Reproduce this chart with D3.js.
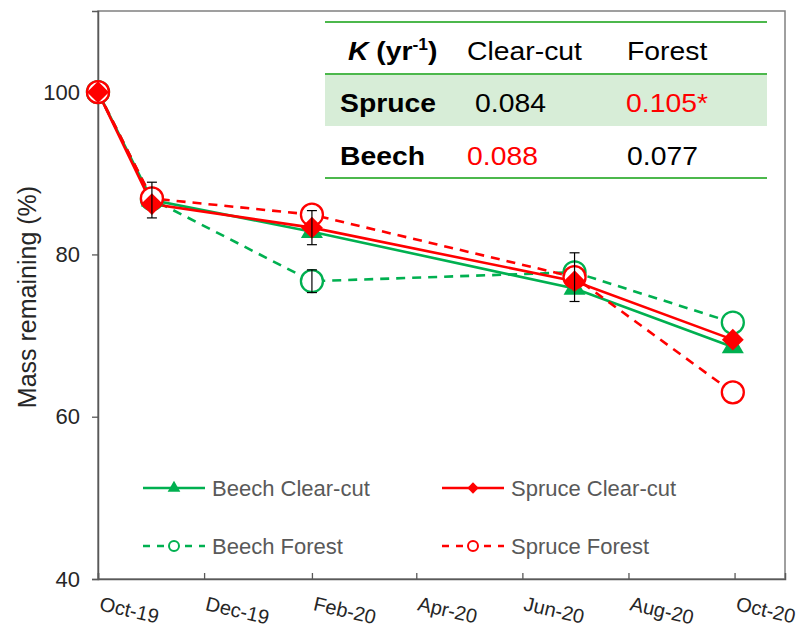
<!DOCTYPE html>
<html>
<head>
<meta charset="utf-8">
<script src="https://cdn.jsdelivr.net/npm/d3@7"></script>
<style>
  body { margin: 0; background: #fff; }
  svg { display: block; font-family: "Liberation Sans", Arial, sans-serif; }
</style>
</head>
<body>
<svg id="chart" width="800" height="632"></svg>
<script>
// sampling dates and mass remaining (%)
const dates = ['2019-10-01', '2019-11-01', '2020-02-01', '2020-07-01', '2020-09-30'];
const beechClearCut = [100, 86.7, 82.8, 75.8, 68.6];
const spruceClearCut = [100, 86.2, 83.3, 76.7, 69.5];
const beechForest = [100, 86.8, 76.7, 77.8, 71.6];
const spruceForest = [100, 86.9, 84.9, 77.2, 63.0];

// error bars (0 = none shown)
const beechClearCutErr = [0, 2.2, 0, 0, 0];
const spruceClearCutErr = [0, 0, 2.1, 0, 0];
const beechForestErr = [0, 0, 1.4, 0, 0];
const spruceForestErr = [0, 0, 0, 3.0, 0];

const xTicks = ['2019-10-01', '2019-12-01', '2020-02-01', '2020-04-01', '2020-06-01', '2020-08-01', '2020-10-01'];
const yTicks = [40, 60, 80, 100];

// decay constants table
const tableHeader = ['Clear-cut', 'Forest'];
const tableRows = ['Spruce', 'Beech'];
const kValues = [['0.084', '0.105*'], ['0.088', '0.077']];
const kHighlight = [[false, true], [true, false]];

const green = '#00B050', red = '#FF0000';
const parse = d3.timeParse('%Y-%m-%d');

const margin = {top: 11, right: 15, bottom: 53, left: 98};
const width = 800, height = 632;

const x = d3.scaleTime()
    .domain([parse('2019-10-01'), parse('2020-10-30')])
    .range([margin.left, width - margin.right]);

const y = d3.scaleLinear()
    .domain([40, 110])
    .range([height - margin.bottom, margin.top]);

const svg = d3.select('#chart');

const series = [
  {name: 'Beech Clear-cut', values: beechClearCut, err: beechClearCutErr, color: green, dash: null, marker: 'triangle'},
  {name: 'Beech Forest', values: beechForest, err: beechForestErr, color: green, dash: '9,7', marker: 'circle'},
  {name: 'Spruce Forest', values: spruceForest, err: spruceForestErr, color: red, dash: '9,7', marker: 'circle'},
  {name: 'Spruce Clear-cut', values: spruceClearCut, err: spruceClearCutErr, color: red, dash: null, marker: 'diamond'}
];

// frame
svg.append('rect')
    .attr('x', margin.left).attr('y', margin.top)
    .attr('width', width - margin.right - margin.left)
    .attr('height', height - margin.bottom - margin.top)
    .attr('fill', 'none')
    .attr('stroke', '#808080')
    .attr('stroke-width', 1.5);

// axes
const yAxis = svg.append('g')
    .attr('transform', `translate(${margin.left},0)`)
    .call(d3.axisLeft(y).tickValues(yTicks).tickSize(6).tickPadding(12));
yAxis.select('.domain').attr('stroke', '#595959').attr('stroke-width', 1.5);
yAxis.selectAll('.tick line').attr('stroke', '#595959').attr('stroke-width', 1.3);
yAxis.selectAll('.tick text')
    .attr('fill', '#262626')
    .style('font-size', '22px')
    .style('font-family', '"Liberation Sans", Arial, sans-serif');

const xAxis = svg.append('g')
    .attr('transform', `translate(0,${height - margin.bottom})`)
    .call(d3.axisBottom(x).tickValues(xTicks.map(parse)).tickSize(-6).tickFormat(d3.timeFormat('%b-%y')));
xAxis.select('.domain').attr('stroke', '#595959').attr('stroke-width', 1.5);
xAxis.selectAll('.tick line').attr('stroke', '#595959').attr('stroke-width', 1.3);
xAxis.selectAll('.tick text')
    .attr('fill', '#262626')
    .attr('text-anchor', 'start')
    .attr('x', 0).attr('y', 31).attr('dy', null)
    .attr('transform', 'rotate(13,0,31)')
    .style('font-size', '20px')
    .style('font-family', '"Liberation Sans", Arial, sans-serif');

svg.append('text')
    .attr('transform', 'translate(36,297) rotate(-90)')
    .attr('text-anchor', 'middle')
    .attr('fill', '#262626')
    .style('font-size', '25px')
    .text('Mass remaining (%)');

// lines
const line = d3.line()
    .x((d, i) => x(parse(dates[i])))
    .y(d => y(d));

const markerPath = (type, size) => {
  if (type === 'triangle') return d3.symbol(d3.symbolTriangle, size)();
  if (type === 'diamond') return d3.symbol(d3.symbolSquare, size)();
  return null;
};

series.forEach(s => {
  svg.append('path')
      .datum(s.values)
      .attr('d', line)
      .attr('fill', 'none')
      .attr('stroke', s.color)
      .attr('stroke-width', 2.6)
      .attr('stroke-dasharray', s.dash);
});

series.forEach(s => {
  const g = svg.append('g');
  s.values.forEach((v, i) => {
    const px = x(parse(dates[i])), py = y(v);
    if (s.marker === 'circle') {
      g.append('circle')
          .attr('cx', px).attr('cy', py).attr('r', 11)
          .attr('fill', '#fff')
          .attr('stroke', s.color)
          .attr('stroke-width', 2.3);
    } else {
      g.append('path')
          .attr('d', markerPath(s.marker, s.marker === 'diamond' ? 240 : 210))
          .attr('transform', `translate(${px},${py})` + (s.marker === 'diamond' ? ' rotate(45)' : ''))
          .attr('fill', s.color);
    }
  });
});

// error bars
series.forEach(s => {
  s.err.forEach((e, i) => {
    if (!e) return;
    const px = x(parse(dates[i]));
    const y0 = y(s.values[i] - e), y1 = y(s.values[i] + e);
    const g = svg.append('g').attr('stroke', '#000').attr('stroke-width', 1.2);
    g.append('line').attr('x1', px).attr('x2', px).attr('y1', y0).attr('y2', y1);
    g.append('line').attr('x1', px - 5).attr('x2', px + 5).attr('y1', y0).attr('y2', y0);
    g.append('line').attr('x1', px - 5).attr('x2', px + 5).attr('y1', y1).attr('y2', y1);
  });
});

// legend
const legendItems = [
  {s: series[0], lx: 143, ly: 488},
  {s: series[3], lx: 442, ly: 488},
  {s: series[1], lx: 143, ly: 546},
  {s: series[2], lx: 442, ly: 546}
];
legendItems.forEach(({s, lx, ly}) => {
  const g = svg.append('g').attr('transform', `translate(${lx},${ly})`);
  g.append('line')
      .attr('x1', 0).attr('x2', 62).attr('y1', 0).attr('y2', 0)
      .attr('stroke', s.color).attr('stroke-width', 2.3)
      .attr('stroke-dasharray', s.dash ? '7,7' : null);
  if (s.marker === 'circle') {
    g.append('circle').attr('cx', 31).attr('r', 5)
        .attr('fill', '#fff').attr('stroke', s.color).attr('stroke-width', 2);
  } else {
    g.append('path')
        .attr('d', markerPath(s.marker, s.marker === 'diamond' ? 64 : 70))
        .attr('transform', `translate(31,0)` + (s.marker === 'diamond' ? ' rotate(45)' : ''))
        .attr('fill', s.color);
  }
  g.append('text')
      .attr('x', 69).attr('y', 0).attr('dy', '0.35em')
      .attr('fill', '#595959')
      .style('font-size', '22px')
      .text(s.name);
});

// K table
const tbl = svg.append('g');
const tLine = '#4CB84C';
tbl.append('rect')
    .attr('x', 325).attr('y', 74).attr('width', 442).attr('height', 52)
    .attr('fill', '#D7EDD7');
[22, 74, 178].forEach(ty => {
  tbl.append('line')
      .attr('x1', 325).attr('x2', 767).attr('y1', ty).attr('y2', ty)
      .attr('stroke', tLine).attr('stroke-width', 2);
});

const cell = (tx, ty, txt, opts = {}) => tbl.append('text')
    .attr('transform', `translate(${tx},${ty}) scale(1.09,1)`)
    .attr('fill', opts.color || '#000')
    .style('font-size', '26px')
    .style('font-weight', opts.bold ? 'bold' : null)
    .text(txt);

const kh = tbl.append('text')
    .attr('transform', 'translate(348,60) scale(1.09,1)')
    .style('font-size', '26px')
    .style('font-weight', 'bold');
kh.append('tspan').style('font-style', 'italic').text('K');
kh.append('tspan').text(' (yr');
kh.append('tspan').attr('dy', -10).style('font-size', '16px').text('-1');
kh.append('tspan').attr('dy', 10).text(')');

const colX = [[475, 626], [467, 627]];
cell(467, 60, tableHeader[0]);
cell(627, 60, tableHeader[1]);
tableRows.forEach((r, i) => {
  const ty = i === 0 ? 112 : 165;
  cell(340, ty, r, {bold: true});
  kValues[i].forEach((v, j) => cell(colX[i][j], ty, v, {color: kHighlight[i][j] ? red : '#000'}));
});
</script>
</body>
</html>
